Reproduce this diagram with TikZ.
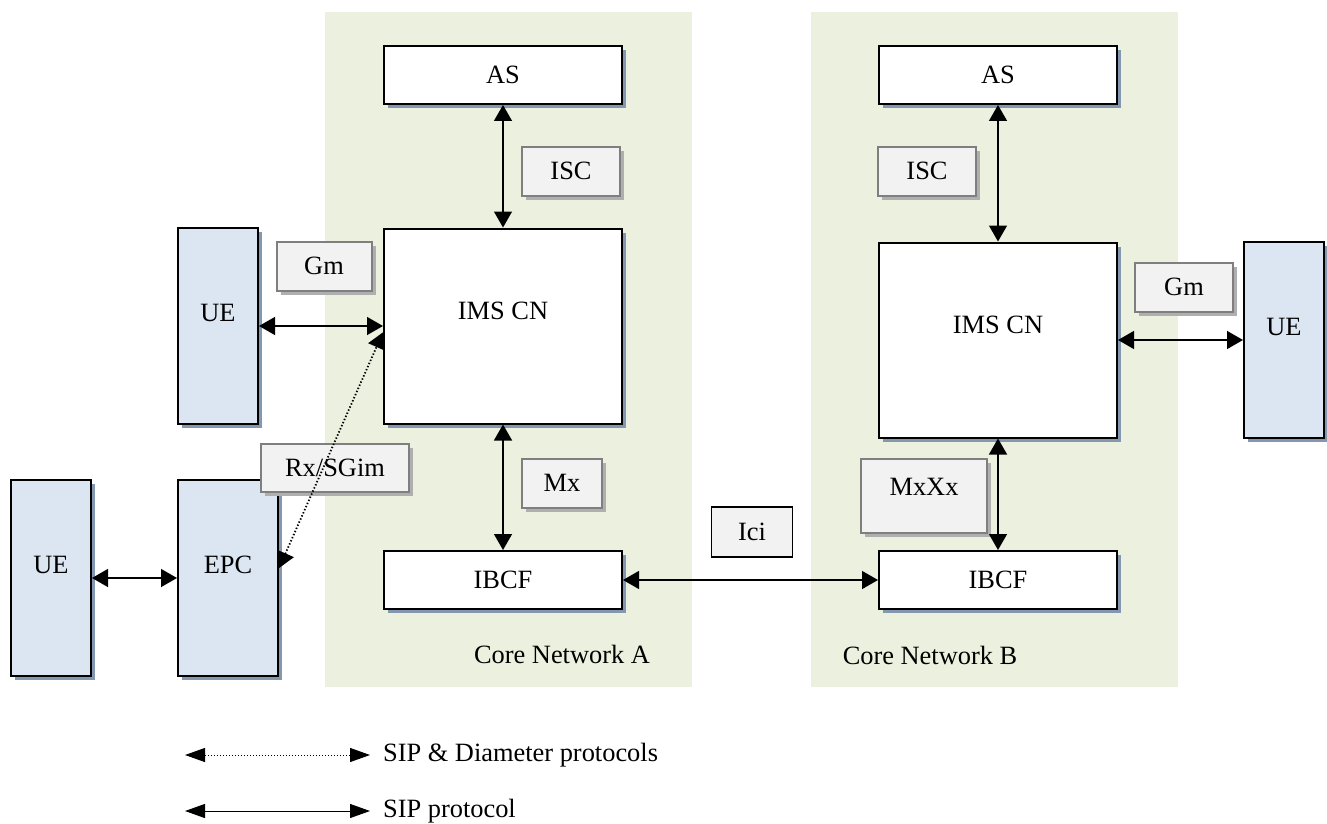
\documentclass[tikz,border=0pt]{standalone}
\usepackage{fontspec}
\setmainfont{Liberation Serif}
\usetikzlibrary{positioning,arrows.meta,shadows}

\definecolor{panelgreen}{RGB}{235,241,222}
\definecolor{uefill}{RGB}{220,230,242}
\definecolor{tagfill}{RGB}{242,242,242}
\definecolor{tagline}{RGB}{127,127,127}
\definecolor{boxshadow}{RGB}{132,151,176}
\definecolor{tagshadow}{RGB}{175,175,175}

\begin{document}
\begin{tikzpicture}[
    x=0.5pt, y=-0.5pt,
    font=\fontsize{13.2}{16}\selectfont,
    box/.style={rectangle, draw, line width=1pt, fill=white, minimum width=119pt, minimum height=29pt, inner sep=0pt, drop shadow={shadow xshift=2pt, shadow yshift=-2pt, fill=boxshadow, opacity=1}},
    bigbox/.style={box, minimum height=97.5pt, text height=9pt, text depth=16pt},
    ue/.style={box, fill=uefill, minimum width=40pt, minimum height=98pt, text height=9pt, text depth=14pt},
    tagplain/.style={rectangle, draw=tagline, line width=1pt, fill=tagfill, minimum width=49pt, minimum height=24.5pt, inner sep=0pt},
    tag/.style={tagplain, drop shadow={shadow xshift=2pt, shadow yshift=-2pt, fill=tagshadow, opacity=1}},
    sip/.style={<->, >={Triangle[length=8pt,width=9pt]}, line width=0.7pt},
    sipdia/.style={sip, densely dotted},
    legend/.style={<->, >={Triangle[length=10pt,width=7pt]}, line width=0.5pt}
]
\useasboundingbox (0,0) rectangle (1327,824);

% Core networks
\fill[panelgreen] (325,12) rectangle (692,687);
\fill[panelgreen] (811,12) rectangle (1178,687);
\node (cna) at (562,654) {Core Network A};
\node (cnb) at (930,655) {Core Network B};

% Network A
\node[box] (asa) at (503,75) {AS};
\node[bigbox] (imsa) at (503,326) {IMS CN};
\node[box] (ibcfa) at (503,580) {IBCF};

% Network B
\node[box] (asb) at (998,75) {AS};
\node[bigbox] (imsb) at (998,340) {IMS CN};
\node[box] (ibcfb) at (998,580) {IBCF};

% Terminals and EPC
\node[ue] (uea) at (218,326) {UE};
\node[ue] (uec) at (51,578) {UE};
\node[ue, minimum width=50pt] (epc) at (228,578) {EPC};
\node[ue] (ueb) at (1284,340) {UE};

% Interface labels
\node[tag] (isca) at (571,171) {ISC};
\node[tag] (iscb) at (927,171) {ISC};
\node[tag, minimum width=47.5pt] (gma) at (324,266) {Gm};
\node[tag] (gmb) at (1184,287) {Gm};
\node[tag, minimum width=74pt, minimum height=24pt] (rx) at (335,468) {Rx/SGim};
\node[tag, minimum width=40pt] (mxa) at (562,483) {Mx};
\node[tag, minimum width=63pt, minimum height=37pt, text height=9pt, text depth=10pt] (mxb) at (924,496) {MxXx};
\node[tagplain, draw=black, line width=0.7pt, minimum width=40.5pt, minimum height=25pt] (ici) at (752,532) {Ici};

% Connections
\draw[sip] (asa) -- (imsa);
\draw[sip] (imsa) -- (ibcfa);
\draw[sip] (uea) -- (imsa);
\draw[sipdia, line width=0.9pt] (epc.11) -- (imsa.183);
\draw[sip] (uec) -- (epc);
\draw[sip] (ibcfa) -- (ibcfb);
\draw[sip] (asb) -- (imsb);
\draw[sip] (imsb) -- (ibcfb);
\draw[sip] (imsb) -- (ueb);

% Legend
\coordinate (da) at (185,755);
\coordinate (db) at (370,755);
\coordinate (sa) at (185,811);
\coordinate (sb) at (370,811);
\draw[legend, densely dotted] (da) -- (db);
\node[right=3pt of db] (legdia) {SIP \& Diameter protocols};
\draw[legend] (sa) -- (sb);
\node[right=3pt of sb] (legsip) {SIP protocol};

\end{tikzpicture}
\end{document}
